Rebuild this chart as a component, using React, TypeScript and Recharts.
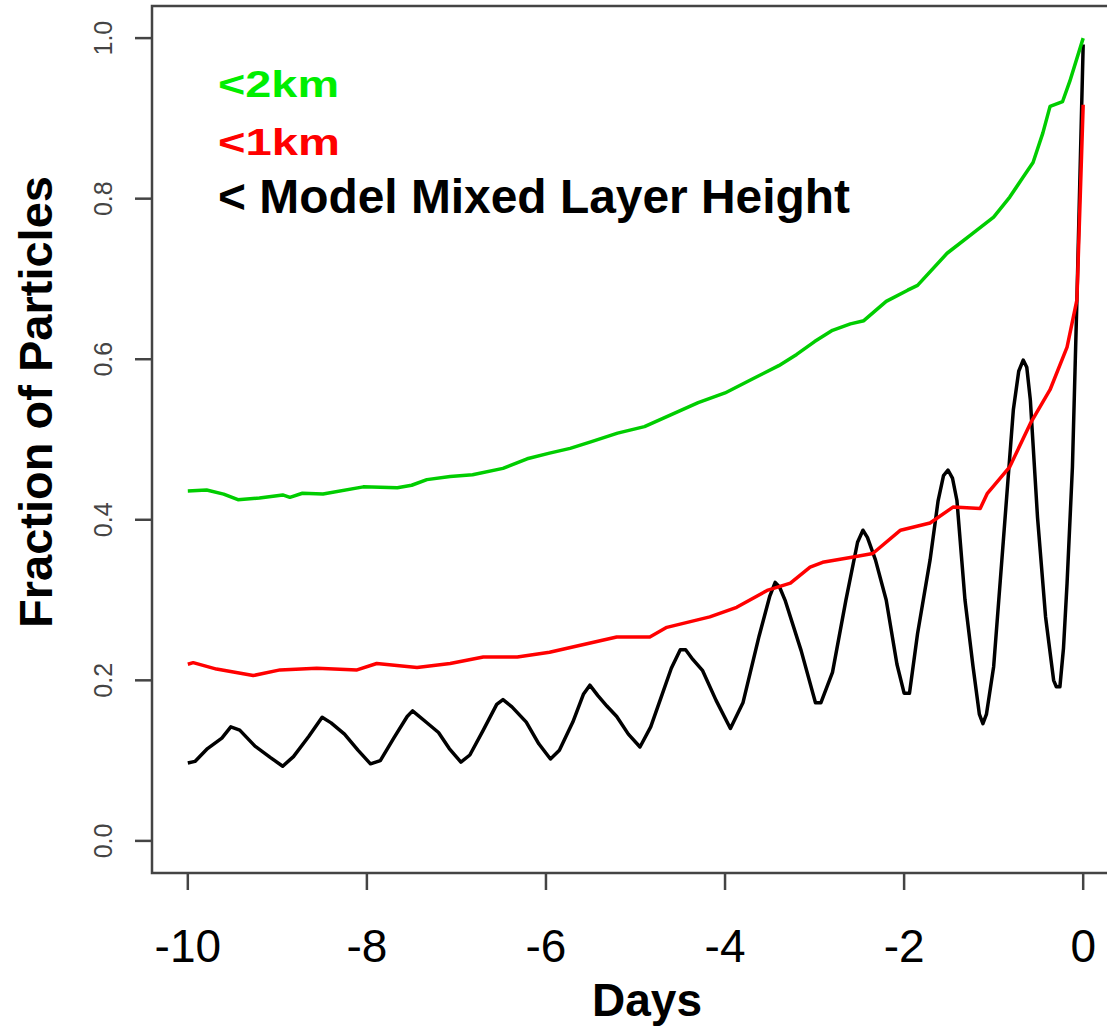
import React from 'react';
import { LineChart, Line, XAxis, YAxis, ReferenceArea } from 'recharts';

// tick values
const xTicks = [-10, -8, -6, -4, -2, 0];
const yTicks = [0, 0.2, 0.4, 0.6, 0.8, 1.0];

// <2km (green)
const greenDays = [
  -10, -9.79, -9.6, -9.44, -9.2, -8.94, -8.86, -8.72, -8.49, -8.04, -7.66, -7.5, -7.33, -7.07, -6.82,
  -6.48, -6.21, -5.96, -5.73, -5.5, -5.2, -4.9, -4.6, -4.3, -4.0, -3.7, -3.4, -3.2, -3.0, -2.8, -2.6,
  -2.45, -2.2, -1.96, -1.85, -1.52, -1.23, -1.0, -0.82, -0.67, -0.56, -0.45, -0.37, -0.23, -0.15, 0,
];
const greenValues = [
  0.436, 0.437, 0.432, 0.425, 0.427, 0.431, 0.428, 0.433, 0.432, 0.441, 0.44, 0.443, 0.45, 0.454, 0.456,
  0.464, 0.476, 0.483, 0.489, 0.497, 0.508, 0.516, 0.531, 0.546, 0.558, 0.575, 0.592, 0.606, 0.622, 0.636, 0.644,
  0.648, 0.672, 0.686, 0.692, 0.732, 0.757, 0.777, 0.802, 0.827, 0.845, 0.882, 0.915, 0.921, 0.946, 1.0,
];

// <1km (red)
const redDays = [
  -10, -9.94, -9.68, -9.27, -8.97, -8.56, -8.11, -7.89, -7.44, -7.07, -6.7, -6.32, -5.96, -5.21, -4.84,
  -4.65, -4.17, -3.87, -3.53, -3.27, -3.05, -2.91, -2.6, -2.35, -2.04, -1.71, -1.45, -1.15, -1.07, -0.82,
  -0.59, -0.37, -0.18, -0.07, 0,
];
const redValues = [
  0.22, 0.222, 0.214, 0.206, 0.213, 0.215, 0.213, 0.221, 0.216, 0.221, 0.229, 0.229, 0.235, 0.254, 0.254,
  0.266, 0.279, 0.291, 0.312, 0.321, 0.341, 0.347, 0.353, 0.358, 0.387, 0.396, 0.416, 0.414, 0.433, 0.466,
  0.52, 0.562, 0.615, 0.674, 0.917,
];

// < model mixed layer height (black)
const blackDays = [
  -10.0, -9.92, -9.78, -9.62, -9.52, -9.42, -9.25, -9.08, -8.94, -8.82, -8.65, -8.5, -8.4, -8.25, -8.1,
  -7.96, -7.85, -7.7, -7.55, -7.49, -7.35, -7.2, -7.08, -6.95, -6.85, -6.7, -6.55, -6.48, -6.38, -6.22,
  -6.08, -5.95, -5.85, -5.7, -5.58, -5.51, -5.42, -5.32, -5.21, -5.08, -4.95, -4.83, -4.72, -4.6, -4.5,
  -4.44, -4.36, -4.25, -4.1, -3.94, -3.8, -3.62, -3.5, -3.44, -3.39, -3.33, -3.15, -2.99, -2.93, -2.8,
  -2.65, -2.52, -2.46, -2.41, -2.32, -2.2, -2.08, -2.0, -1.94, -1.85, -1.71, -1.62, -1.56, -1.51, -1.46,
  -1.41, -1.32, -1.23, -1.16, -1.12, -1.08, -1.0, -0.9, -0.78, -0.72, -0.67, -0.63, -0.59, -0.51, -0.42,
  -0.33, -0.3, -0.26, -0.22, -0.18, -0.12, -0.07, 0,
];
const blackValues = [
  0.097, 0.099, 0.115, 0.128, 0.142, 0.138, 0.118, 0.104, 0.093, 0.105, 0.13, 0.154, 0.147, 0.133, 0.113,
  0.096, 0.1, 0.128, 0.155, 0.162, 0.149, 0.135, 0.115, 0.098, 0.107, 0.138, 0.17, 0.176, 0.167, 0.148,
  0.121, 0.102, 0.113, 0.148, 0.183, 0.194, 0.181, 0.168, 0.155, 0.133, 0.117, 0.142, 0.177, 0.215, 0.238,
  0.238, 0.226, 0.212, 0.175, 0.14, 0.172, 0.255, 0.305, 0.322, 0.316, 0.3, 0.237, 0.172, 0.172, 0.21,
  0.3, 0.372, 0.387, 0.378, 0.35, 0.3, 0.22, 0.184, 0.184, 0.258, 0.35, 0.424, 0.455, 0.462, 0.452,
  0.424, 0.3, 0.217, 0.158, 0.146, 0.158, 0.217, 0.362, 0.537, 0.585, 0.599, 0.59, 0.549, 0.403, 0.279,
  0.2, 0.192, 0.192, 0.24, 0.321, 0.466, 0.674, 0.992,
];

const toPoints = (days: number[], values: number[]) => days.map((d, i) => ({ d, v: values[i] }));

const series = [
  { name: '<2km', color: '#00cd00', textColor: '#00ee00', points: toPoints(greenDays, greenValues) },
  { name: '<1km', color: '#ff0000', textColor: '#ff0000', points: toPoints(redDays, redValues) },
  { name: '< Model Mixed Layer Height', color: '#000000', textColor: '#000000', points: toPoints(blackDays, blackValues) },
];

const FONT = '"Liberation Sans", Arial, Helvetica, sans-serif';

const XTick = (props: any) => {
  const { x, payload } = props;
  return (
    <text x={x} y={962} textAnchor="middle" fontFamily={FONT} fontSize={46} fill="#000">
      {payload.value}
    </text>
  );
};

const YTick = (props: any) => {
  const { y, payload } = props;
  return (
    <text
      x={112}
      y={y}
      textAnchor="middle"
      transform={`rotate(-90, 112, ${y})`}
      fontFamily={FONT}
      fontSize={25}
      fill="#444"
    >
      {Number(payload.value).toFixed(1)}
    </text>
  );
};

// legend text sizes as in the figure
const legendStyle = [
  { y: 97, size: 37, len: 121 },
  { y: 155, size: 37, len: 122 },
  { y: 213, size: 48, len: 632 },
];

export default function App() {
  return (
    <div style={{ position: 'absolute', left: 0, top: 0, width: 1107, height: 1028, overflow: 'hidden', background: '#fff' }}>
      <LineChart width={1130} height={1028} margin={{ top: 6, right: 11, bottom: 0, left: 0 }}>
        <XAxis
          dataKey="d"
          type="number"
          domain={[-10.4, 0.4]}
          allowDataOverflow
          ticks={xTicks}
          height={155}
          tickSize={17}
          axisLine={false}
          tickLine={{ stroke: '#444', strokeWidth: 2.5 }}
          tick={XTick}
        />
        <YAxis
          type="number"
          domain={[-0.04, 1.04]}
          allowDataOverflow
          ticks={yTicks}
          width={152}
          tickSize={17}
          axisLine={false}
          tickLine={{ stroke: '#444', strokeWidth: 2.5 }}
          tick={YTick}
        />
        <ReferenceArea
          x1={-10.4}
          x2={0.4}
          y1={-0.04}
          y2={1.04}
          fill="none"
          fillOpacity={0}
          stroke="#444"
          strokeWidth={2.5}
          ifOverflow="visible"
        />
        {[series[2], series[1], series[0]].map((s) => (
          <Line
            key={s.name}
            data={s.points}
            dataKey="v"
            name={s.name}
            type="linear"
            stroke={s.color}
            strokeWidth={3.5}
            strokeLinejoin="round"
            dot={false}
            isAnimationActive={false}
          />
        ))}
      </LineChart>
      <svg width={1107} height={1028} style={{ position: 'absolute', left: 0, top: 0, pointerEvents: 'none' }}>
        {series.map((s, i) => (
          <text
            key={s.name}
            x={218}
            y={legendStyle[i].y}
            fontFamily={FONT}
            fontWeight="bold"
            fontSize={legendStyle[i].size}
            textLength={legendStyle[i].len}
            lengthAdjust="spacingAndGlyphs"
            fill={s.textColor}
          >
            {s.name}
          </text>
        ))}
        <text x={647} y={1016} textAnchor="middle" fontFamily={FONT} fontWeight="bold" fontSize={46} fill="#000">
          Days
        </text>
        <text
          x={52}
          y={402}
          textAnchor="middle"
          transform="rotate(-90, 52, 402)"
          fontFamily={FONT}
          fontWeight="bold"
          fontSize={47}
          fill="#000"
        >
          Fraction of Particles
        </text>
      </svg>
    </div>
  );
}
